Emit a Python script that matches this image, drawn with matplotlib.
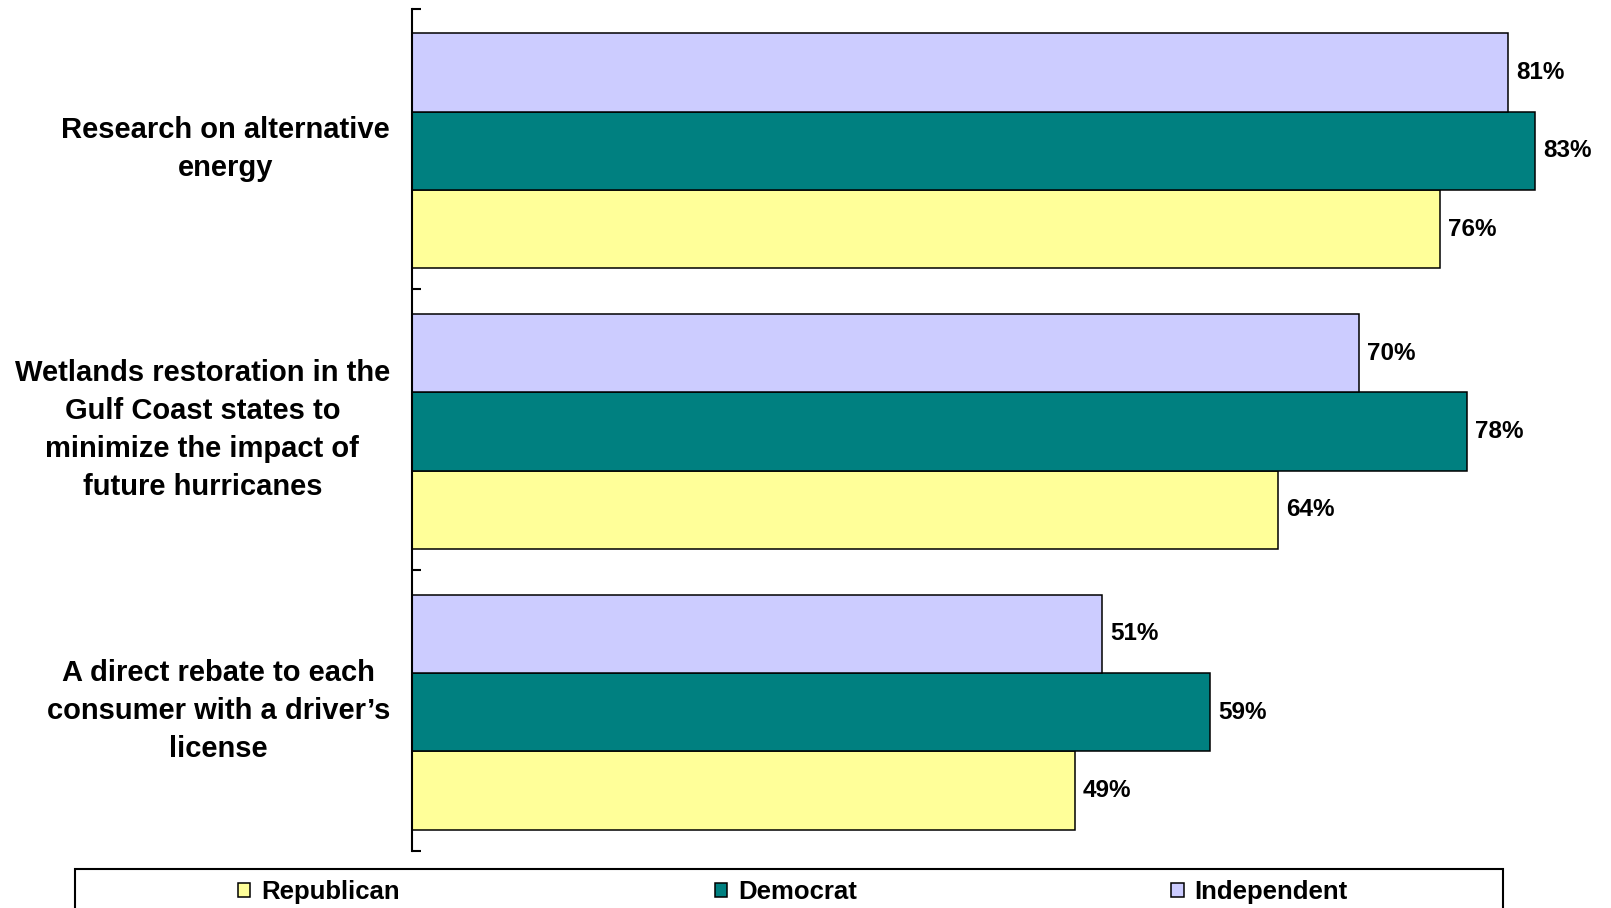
import matplotlib
matplotlib.use("Agg")
import matplotlib.pyplot as plt
import matplotlib.transforms as mtransforms
from matplotlib.patches import Rectangle
import numpy as np

plt.rcParams['font.family'] = ['Liberation Sans', 'DejaVu Sans']

categories = [
    "Research on alternative\nenergy",
    "Wetlands restoration in the\nGulf Coast states to\nminimize the impact of\nfuture hurricanes",
    "A direct rebate to each\nconsumer with a driver\u2019s\nlicense",
]
series_names = ["Republican", "Democrat", "Independent"]
republican = [76, 64, 49]
democrat = [83, 78, 59]
independent = [81, 70, 51]

colors = {"Republican": "#FFFF99", "Democrat": "#008080", "Independent": "#CCCCFF"}

W, H = 1611, 908
fig = plt.figure(figsize=(W / 100, H / 100), dpi=100)
fig.patch.set_facecolor("white")

# plot area: y axis at x=412px, bands between y=8.7px and y=851px
left_px, top_px, bottom_px = 412, 8.7, 851
px_per_pct = 13.53
ax = fig.add_axes([left_px / W, 1 - bottom_px / H,
                   100 * px_per_pct / W, (bottom_px - top_px) / H])
ax.set_xlim(0, 100)
ax.set_ylim(len(categories), 0)

bar_h = 0.279
centers = np.arange(len(categories)) + 0.5
bar_centers = centers + 0.006
series = {"Republican": republican, "Democrat": democrat, "Independent": independent}
offsets = {"Independent": -bar_h, "Democrat": 0.0, "Republican": bar_h}

handles = {}
for name in series_names:
    vals = series[name]
    ys = bar_centers + offsets[name]
    bars = ax.barh(ys, vals, height=bar_h,
                   color=colors[name], edgecolor="black", linewidth=1.1,
                   label=name, zorder=2)
    handles[name] = bars
    for y, v in zip(ys, vals):
        ax.text(v + 0.6, y, f"{v}%", ha="left", va="center",
                fontsize=17.5, fontweight="bold", color="black")

for s in ["top", "right", "bottom"]:
    ax.spines[s].set_visible(False)
ax.spines["left"].set_linewidth(1.5)
ax.set_xticks([])
ax.set_yticks(np.arange(len(categories) + 1))
ax.set_yticklabels([])
ax.tick_params(axis="y", direction="in", length=6.5, width=1.5)
ax.set_facecolor("none")

# category labels, right-aligned left of the axis, lines centred
trans = mtransforms.blended_transform_factory(fig.transFigure, ax.transData)
for c, label in zip(centers, categories):
    fig.text(390 / W, c, label, transform=trans, ha="right", va="center",
             multialignment="center", fontsize=21, fontweight="bold",
             linespacing=1.45)

# legend frame running off the bottom of the figure
frame = Rectangle((75 / W, -0.05), (1503 - 75) / W, 1 - 869 / H + 0.05,
                  transform=fig.transFigure, fill=False, edgecolor="black",
                  linewidth=1.5, clip_on=False)
fig.patches.append(frame)

fig.legend([handles[n] for n in series_names], series_names,
           loc="center", bbox_to_anchor=(793 / W, 1 - 892 / H), ncol=3,
           frameon=False, prop={"weight": "bold", "size": 18.5},
           handlelength=0.47, handleheight=0.47, handletextpad=0.43,
           columnspacing=12.25, borderpad=0)

fig.savefig("out.png", dpi=100, facecolor="white")
